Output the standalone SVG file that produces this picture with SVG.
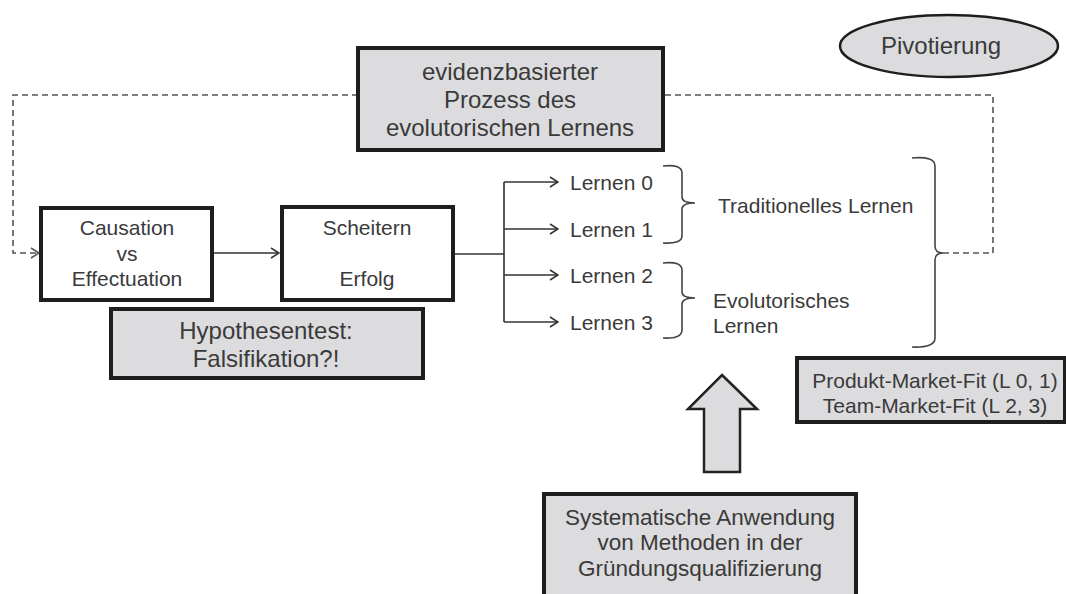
<svg xmlns="http://www.w3.org/2000/svg" width="1066" height="594" viewBox="0 0 1066 594">
  <defs>
    <marker id="chev" viewBox="0 0 10 12" markerWidth="10" markerHeight="12" refX="9" refY="6" orient="auto" markerUnits="userSpaceOnUse">
      <path d="M1,1 L9,6 L1,11" fill="none" stroke="#333" stroke-width="1.5"/>
    </marker>
    <marker id="chevDash" viewBox="0 0 10 12" markerWidth="10" markerHeight="12" refX="9" refY="6" orient="auto" markerUnits="userSpaceOnUse">
      <path d="M1,1 L9,6 L1,11" fill="none" stroke="#555" stroke-width="1.5"/>
    </marker>
  </defs>
  <style>
    .t { font-family: "Liberation Sans", Arial, sans-serif; fill: #3a3a3a; text-anchor: middle; dominant-baseline: central; }
    .s { font-size: 21px; }
    .l { font-size: 24px; }
    .start { text-anchor: start; }
    .box { fill: #ffffff; stroke: #1e1e1e; stroke-width: 4; }
    .gbox { fill: #dcdcde; stroke: #1e1e1e; stroke-width: 4; }
    .line { fill: none; stroke: #333; stroke-width: 1.6; }
    .dash { fill: none; stroke: #555; stroke-width: 1.6; stroke-dasharray: 6 4; }
    .brace { fill: none; stroke: #444; stroke-width: 1.6; }
  </style>

  <rect width="1066" height="594" fill="#ffffff"/>

  <!-- connectors -->
  <g id="connectors">
    <!-- feedback loop from the outer brace back to the start -->
    <path class="dash" d="M943,253 L993,253 L993,95 L663,95"/>
    <path class="dash" d="M358,95 L13,95 L13,253 L39,253" marker-end="url(#chevDash)"/>
    <!-- Causation to Scheitern -->
    <line class="line" x1="212" y1="253" x2="279" y2="253" marker-end="url(#chev)"/>
    <!-- fork to the four learning levels -->
    <line class="line" x1="453" y1="254" x2="504" y2="254"/>
    <line class="line" x1="504" y1="182" x2="504" y2="322"/>
    <line class="line" x1="504" y1="182" x2="558" y2="182" marker-end="url(#chev)"/>
    <line class="line" x1="504" y1="229" x2="558" y2="229" marker-end="url(#chev)"/>
    <line class="line" x1="504" y1="275" x2="558" y2="275" marker-end="url(#chev)"/>
    <line class="line" x1="504" y1="322" x2="558" y2="322" marker-end="url(#chev)"/>
    <!-- braces -->
    <path class="brace" d="M663,166 Q682,164 682,173 L682,197 Q682,203 695,203 Q682,203 682,209 L682,236 Q682,244 663,243"/>
    <path class="brace" d="M663,263 Q682,261 682,270 L682,292 Q682,298 695,298 Q682,298 682,304 L682,330 Q682,339 663,338"/>
    <path class="brace" d="M912,158 Q935,156 935,166 L935,246 Q935,253 943,253 Q935,253 935,260 L935,338 Q935,348 912,347"/>
  </g>

  <!-- big upward arrow -->
  <g id="arrow-up">
    <path d="M722,375 L757,409 L740,409 L740,472 L704,472 L704,409 L688,409 Z" fill="#dcdcde" stroke="#222" stroke-width="2.5" stroke-linejoin="miter"/>
  </g>

  <g id="node-pivot">
    <ellipse cx="949" cy="46" rx="109" ry="31" fill="#dcdcde" stroke="#1e1e1e" stroke-width="2.5"/>
    <text class="t l" x="941" y="45">Pivotierung</text>
  </g>

  <g id="node-evidenz">
    <rect class="gbox" x="358" y="48" width="305" height="102"/>
    <text class="t l" x="510" y="71">evidenzbasierter</text>
    <text class="t l" x="510" y="99">Prozess des</text>
    <text class="t l" x="510" y="127">evolutorischen Lernens</text>
  </g>

  <g id="node-causation">
    <rect class="box" x="41" y="208" width="171" height="92"/>
    <text class="t s" x="127" y="227">Causation</text>
    <text class="t s" x="127" y="253">vs</text>
    <text class="t s" x="127" y="278">Effectuation</text>
  </g>

  <g id="node-scheitern">
    <rect class="box" x="282" y="207" width="171" height="93"/>
    <text class="t s" x="367" y="227">Scheitern</text>
    <text class="t s" x="367" y="278">Erfolg</text>
  </g>

  <g id="node-hypothese">
    <rect class="gbox" x="111" y="309" width="312" height="69"/>
    <text class="t l" x="266" y="330">Hypothesentest:</text>
    <text class="t l" x="266" y="358">Falsifikation?!</text>
  </g>

  <g id="node-lernen">
    <text class="t s start" x="570" y="182">Lernen 0</text>
    <text class="t s start" x="570" y="229">Lernen 1</text>
    <text class="t s start" x="570" y="275">Lernen 2</text>
    <text class="t s start" x="570" y="322">Lernen 3</text>
  </g>

  <g id="node-traditionell">
    <text class="t s start" x="718" y="205">Traditionelles Lernen</text>
  </g>

  <g id="node-evolutorisch">
    <text class="t s start" x="713" y="300">Evolutorisches</text>
    <text class="t s start" x="713" y="325">Lernen</text>
  </g>

  <g id="node-fit">
    <rect class="gbox" x="797" y="358" width="268" height="64"/>
    <text class="t s" x="935" y="380">Produkt-Market-Fit (L 0, 1)</text>
    <text class="t s" x="935" y="405">Team-Market-Fit (L 2, 3)</text>
  </g>

  <g id="node-methoden">
    <rect class="gbox" x="544" y="494" width="312" height="110"/>
    <text class="t" style="font-size:22.5px" x="700" y="517">Systematische Anwendung</text>
    <text class="t" style="font-size:22.5px" x="700" y="542">von Methoden in der</text>
    <text class="t" style="font-size:22.5px" x="700" y="568">Gründungsqualifizierung</text>
  </g>
</svg>
